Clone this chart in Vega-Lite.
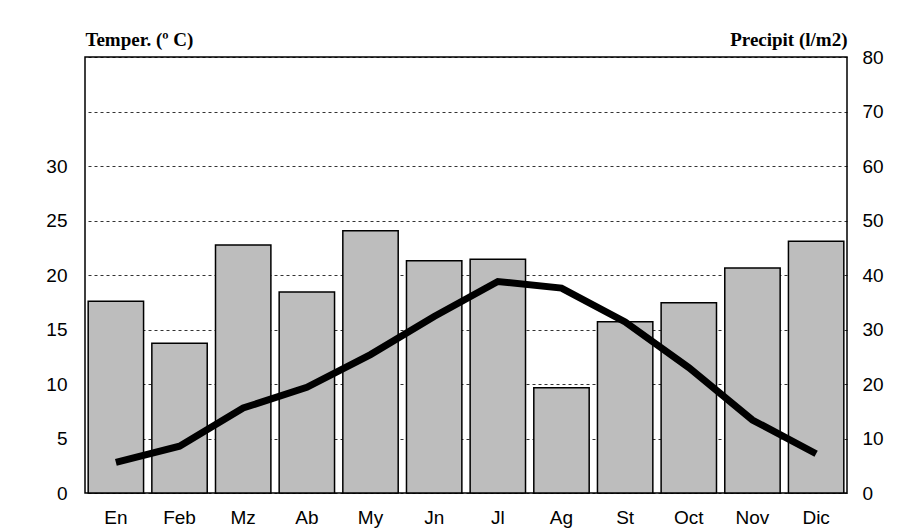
{
  "$schema": "https://vega.github.io/schema/vega-lite/v6.json",
  "width": 762,
  "height": 436,
  "autosize": "none",
  "padding": {"left": 85, "top": 57, "right": 55, "bottom": 35},
  "background": "white",
  "config": {
    "view": {"stroke": "black", "strokeWidth": 1.5},
    "axis": {"labelFont": "Liberation Sans", "labelFontSize": 19, "labelColor": "black", "titleColor": "black"}
  },
  "data": {
    "values": [
      {"mes": "En", "orden": 1, "temp": 2.8, "precip": 35.2},
      {"mes": "Feb", "orden": 2, "temp": 4.3, "precip": 27.5},
      {"mes": "Mz", "orden": 3, "temp": 7.8, "precip": 45.5},
      {"mes": "Ab", "orden": 4, "temp": 9.7, "precip": 36.9},
      {"mes": "My", "orden": 5, "temp": 12.7, "precip": 48.1},
      {"mes": "Jn", "orden": 6, "temp": 16.2, "precip": 42.6},
      {"mes": "Jl", "orden": 7, "temp": 19.4, "precip": 42.9},
      {"mes": "Ag", "orden": 8, "temp": 18.8, "precip": 19.3},
      {"mes": "St", "orden": 9, "temp": 15.7, "precip": 31.4},
      {"mes": "Oct", "orden": 10, "temp": 11.5, "precip": 34.9},
      {"mes": "Nov", "orden": 11, "temp": 6.7, "precip": 41.3},
      {"mes": "Dic", "orden": 12, "temp": 3.6, "precip": 46.2}
    ]
  },
  "encoding": {
    "x": {
      "field": "mes",
      "type": "nominal",
      "sort": {"field": "orden"},
      "scale": {"paddingInner": 0.13, "paddingOuter": 0.05},
      "axis": {"title": null, "labelAngle": 0, "ticks": false, "domain": false, "labelPadding": 15, "labelFontSize": 19}
    }
  },
  "layer": [
    {
      "mark": {"type": "bar", "fill": "#bdbdbd", "stroke": "black", "strokeWidth": 1.5},
      "encoding": {
        "y": {
          "field": "precip",
          "type": "quantitative",
          "scale": {"domain": [0, 80], "nice": false},
          "axis": {
            "orient": "right",
            "values": [0, 10, 20, 30, 40, 50, 60, 70, 80],
            "grid": true,
            "gridColor": "black",
            "gridDash": [3, 3],
            "gridWidth": 1,
            "gridOpacity": 0.8,
            "ticks": false,
            "domain": false,
            "labelPadding": 15,
            "title": "Precipit (l/m2)",
            "titleFont": "Liberation Serif",
            "titleFontWeight": "bold",
            "titleFontSize": 19,
            "titleAngle": 0,
            "titleAlign": "right",
            "titleBaseline": "bottom",
            "titleX": 0,
            "titleY": -8
          }
        }
      }
    },
    {
      "mark": {"type": "line", "color": "black", "strokeWidth": 7},
      "encoding": {
        "y": {
          "field": "temp",
          "type": "quantitative",
          "scale": {"domain": [0, 40], "nice": false},
          "axis": {
            "orient": "left",
            "values": [0, 5, 10, 15, 20, 25, 30],
            "grid": false,
            "ticks": false,
            "domain": false,
            "labelPadding": 18,
            "title": "Temper. (º C)",
            "titleFont": "Liberation Serif",
            "titleFontWeight": "bold",
            "titleFontSize": 19,
            "titleAngle": 0,
            "titleAlign": "left",
            "titleBaseline": "bottom",
            "titleX": 0,
            "titleY": -8
          }
        }
      }
    }
  ],
  "resolve": {"scale": {"y": "independent"}}
}
